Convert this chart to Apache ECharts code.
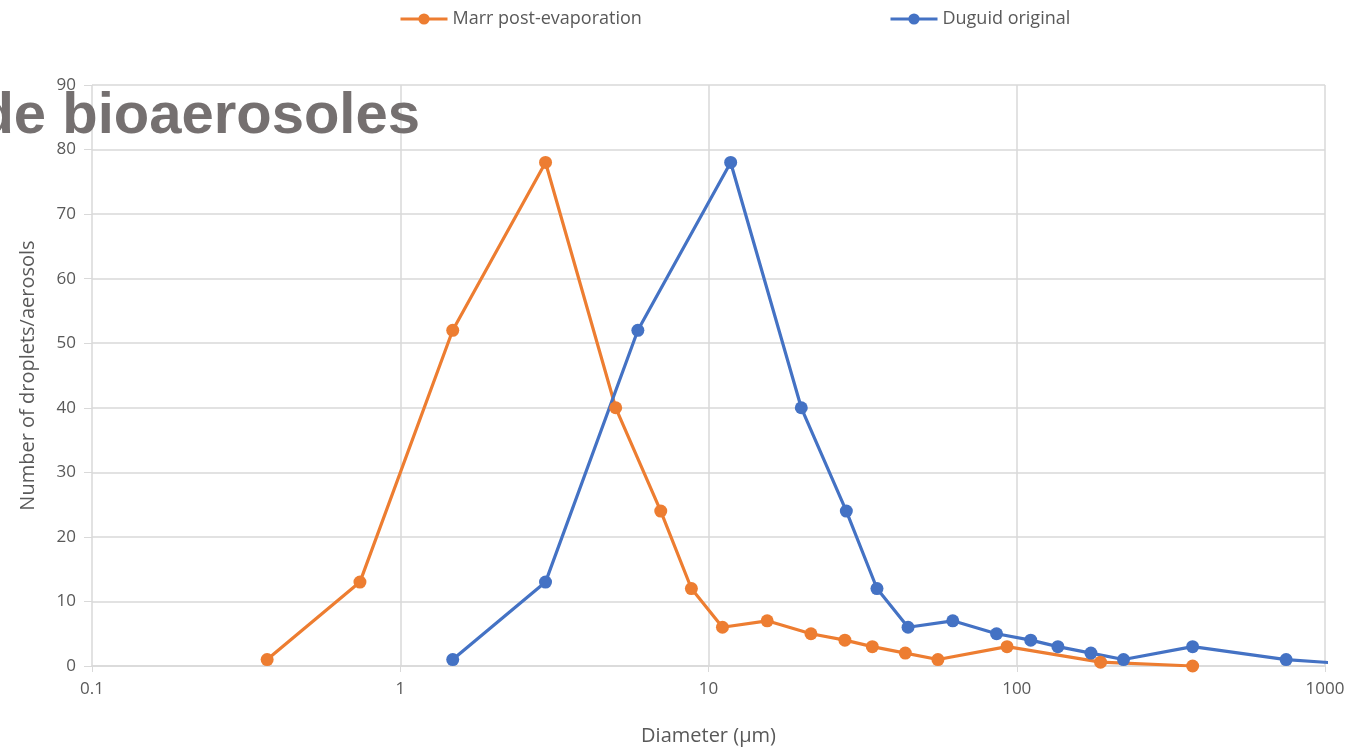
<!DOCTYPE html>
<html>
<head>
<meta charset="utf-8">
<script src="https://cdn.jsdelivr.net/npm/echarts@6/dist/echarts.min.js"></script>
<style>
  html, body { margin: 0; padding: 0; background: #fff; }
  #chart { width: 1361px; height: 752px; }
</style>
</head>
<body>
<div id="chart"></div>
<script>
// Diameters (µm) and counts
const marrDiameter = [0.37, 0.74, 1.48, 2.96, 5, 7, 8.8, 11.1, 15.5, 21.5, 27.7, 34, 43.5, 55.5, 93, 187, 372];
const marrCount = [1, 13, 52, 78, 40, 24, 12, 6, 7, 5, 4, 3, 2, 1, 3, 0.6, 0];
const duguidDiameter = [1.48, 2.96, 5.9, 11.8, 20, 28, 35.2, 44.4, 62, 86, 111, 136, 174, 222, 372, 748, 1488];
const duguidCount = [1, 13, 52, 78, 40, 24, 12, 6, 7, 5, 4, 3, 2, 1, 3, 1, 0];

const seriesNames = ['Marr post-evaporation', 'Duguid original'];

let chart = echarts.init(document.getElementById('chart'));

const pairs = (xs, ys) => xs.map((x, i) => [x, ys[i]]);
const textColor = '#595959';
const gridColor = '#d9d9d9';

// one legend per series, so each sits where the reference puts it
const legendBase = {
    top: 5,
    itemWidth: 47,
    itemHeight: 14,
    lineStyle: { width: 3 },
    textStyle: { color: textColor, fontSize: 18, fontFamily: 'Open Sans' }
};

let option = {
    animation: false,
    backgroundColor: '#fff',
    textStyle: { fontFamily: 'Open Sans' },
    legend: [
        Object.assign({ data: [seriesNames[0]], left: 394 }, legendBase),
        Object.assign({ data: [seriesNames[1]], left: 884 }, legendBase)
    ],
    grid: { left: 92, right: 36, top: 85, bottom: 86 },
    xAxis: {
        type: 'log',
        logBase: 10,
        min: 0.1,
        max: 1000,
        name: 'Diameter (µm)',
        nameLocation: 'middle',
        nameGap: 60,
        nameTextStyle: { color: textColor, fontSize: 20 },
        axisLine: { lineStyle: { color: gridColor, width: 1.5 } },
        axisTick: { show: true, length: 6, lineStyle: { color: gridColor } },
        axisLabel: {
            color: textColor, fontSize: 17, margin: 15,
            formatter: v => String(v)
        },
        splitLine: { show: true, lineStyle: { color: gridColor, width: 1.5 } },
        minorTick: { show: false }
    },
    yAxis: {
        type: 'value',
        min: 0,
        max: 90,
        interval: 10,
        name: 'Number of droplets/aerosols',
        nameLocation: 'middle',
        nameGap: 54,
        nameTextStyle: { color: textColor, fontSize: 20 },
        axisLine: { show: false },
        axisTick: { show: true, length: 8, lineStyle: { color: gridColor } },
        axisLabel: { color: textColor, fontSize: 17, margin: 16 },
        splitLine: { lineStyle: { color: gridColor, width: 1.5 } }
    },
    graphic: [
        {
            type: 'text',
            right: 1361 - 420,
            top: 88,
            z: 100,
            style: {
                text: 'de bioaerosoles',
                fill: '#757070',
                font: 'bold 58px "Liberation Sans"'
            }
        }
    ],
    series: [
        {
            name: seriesNames[0],
            type: 'line',
            data: pairs(marrDiameter, marrCount),
            color: '#ED7D31',
            symbol: 'circle',
            symbolSize: 13,
            lineStyle: { width: 3.2 },
            clip: true
        },
        {
            name: seriesNames[1],
            type: 'line',
            data: pairs(duguidDiameter, duguidCount),
            color: '#4472C4',
            symbol: 'circle',
            symbolSize: 13,
            lineStyle: { width: 3.2 },
            clip: true
        }
    ]
};

chart.setOption(option);
</script>
</body>
</html>
